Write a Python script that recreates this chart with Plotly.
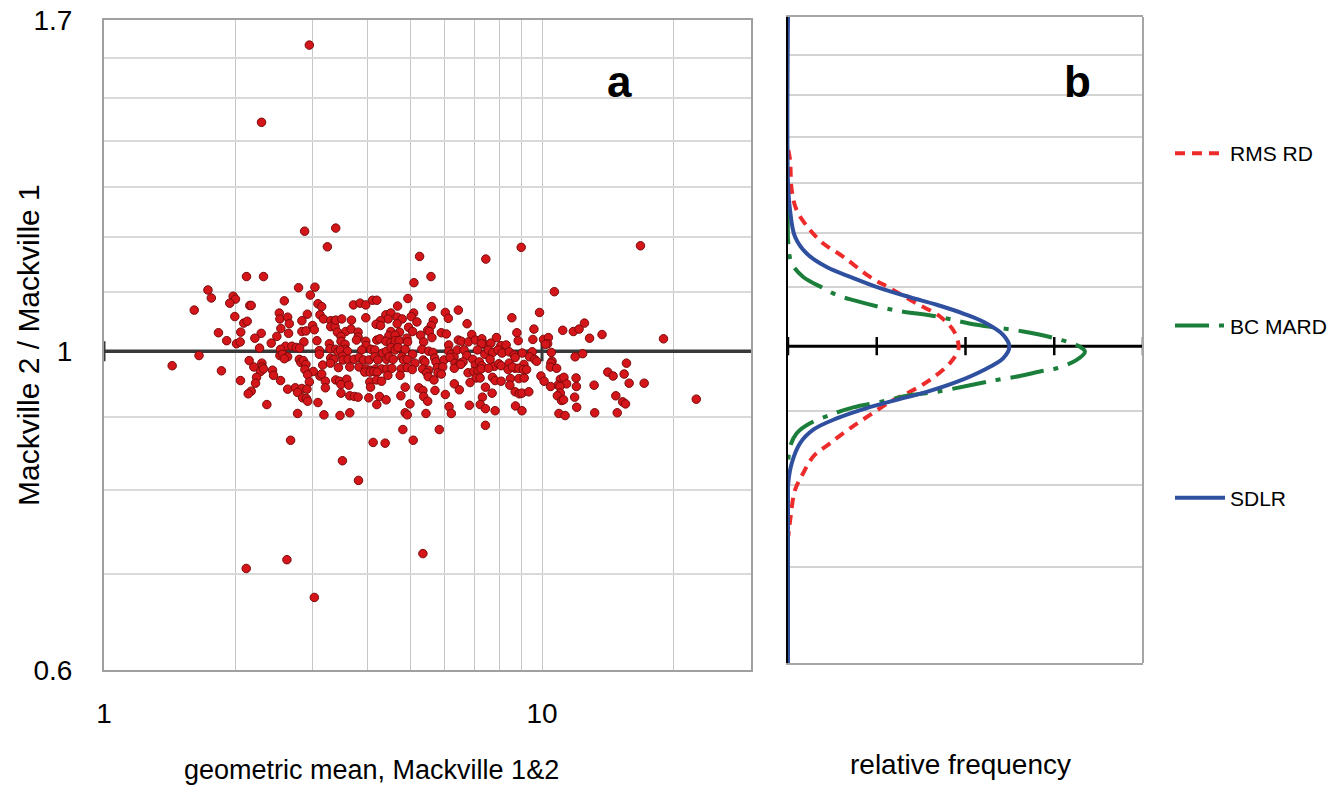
import plotly.graph_objects as go

# ---------------- data: panel a (scatter) ----------------
gm = [
 2.115,2.313,2.781,3.031,1.727,1.758,1.972,1.996,1.937,2.958,2.580,2.152,2.168,3.079,3.141,1.607,1.989,2.513,2.521,2.626,
 2.912,3.112,3.169,2.085,2.123,2.649,2.830,2.994,3.021,3.293,3.369,3.293,3.369,2.534,1.825,2.052,2.285,2.639,2.830,2.891,
 2.481,1.906,2.210,2.007,2.046,2.409,2.860,3.063,3.270,3.281,2.265,2.598,2.685,2.748,2.796,2.530,3.102,3.102,2.521,2.557,
 2.626,2.580,1.648,3.293,3.346,1.431,2.145,2.293,2.298,2.198,2.792,2.815,2.851,2.891,3.157,3.288,1.854,2.277,2.313,2.425,
 2.438,2.875,3.005,2.917,3.112,3.141,2.230,2.049,2.218,2.530,2.943,3.202,2.626,2.734,2.830,2.906,2.767,3.202,2.168,2.134,
 2.841,2.897,2.917,3.079,2.354,2.767,3.178,2.667,
 5.578,5.100,3.711,3.843,3.960,4.103,4.196,4.941,4.680,5.587,6.441,6.015,8.534,3.381,3.489,3.673,3.960,4.400,4.518,4.454,
 5.092,5.028,4.670,4.795,5.181,5.646,5.587,6.111,4.279,4.181,4.279,4.670,6.744,4.959,3.411,3.564,3.665,3.803,4.518,4.729,
 4.470,4.621,5.065,5.482,5.529,5.283,5.889,6.047,6.912,8.762,3.476,3.476,3.803,3.771,3.960,3.966,4.196,4.263,4.400,4.518,
 4.621,4.719,4.915,4.933,5.367,5.607,6.441,6.543,6.123,6.790,7.045,7.287,7.387,7.271,7.641,7.870,8.054,8.282,8.823,3.551,
 3.551,3.381,3.422,3.466,3.596,3.877,4.072,4.152,4.331,4.416,4.525,4.621,4.687,4.871,5.065,5.319,5.511,5.637,6.123,6.208,
 6.296,6.407,6.638,6.733,7.120,7.403,7.545,7.722,7.928,8.110,8.414,8.638,9.014,3.502,3.513,3.608,3.723,3.822,3.912,4.029,
 4.152,4.218,4.416,4.477,4.573,4.787,4.830,4.923,5.127,5.356,5.404,5.688,5.727,5.974,6.165,6.329,6.498,6.602,6.949,7.045,
 7.195,7.287,7.613,7.787,7.969,8.067,8.414,8.684,8.684,9.092,3.429,3.640,3.822,3.960,4.051,4.167,4.302,4.423,4.542,4.770,
 4.923,5.055,5.339,5.511,5.767,5.933,5.788,5.889,6.306,6.523,6.779,6.986,7.146,7.260,7.545,8.370,8.562,8.855,3.939,4.051,
 4.130,4.203,4.447,4.744,5.453,5.497,5.667,7.071,7.222,7.706,7.815,8.067,8.472,8.855,9.106,3.381,3.447,3.583,4.045,4.189,
 4.302,3.476,3.621,4.060,4.871,5.235,5.347,6.306,6.474,6.851,7.427,8.445,3.476,4.762,5.697,6.015,7.693,8.684,8.869,9.000,
 3.640,3.731,3.803,4.023,4.256,4.407,5.367,5.482,7.310,4.994,4.196,6.825,7.226,8.698,6.133,7.427,7.815,9.000,4.871,4.923,
 5.433,6.208,3.458,3.640,7.427,4.812,5.827,4.116,4.384,5.081,
 10.67,9.871,12.50,9.584,11.15,11.79,12.15,13.71,12.84,18.94,9.530,10.08,10.34,10.30,10.19,9.500,10.50,12.38,11.90,9.364,
 9.620,9.720,10.54,10.48,15.59,9.060,9.220,10.45,10.80,14.13,14.53,15.40,9.944,10.11,11.01,11.22,11.96,11.38,10.88,10.99,
 10.46,11.98,13.15,15.81,17.11,9.330,11.01,10.84,11.87,14.74,11.08,11.20,15.28,15.51,22.50,12.00,10.93,11.29,13.19,14.85,
 2.943,2.289,2.871,3.381,3.236,5.255,7.442,8.963,16.78,3.502,3.811,2.112,2.616,3.021,5.347,
]
ratio = [
 1.127,1.127,1.107,1.108,1.103,1.089,1.092,1.087,1.080,1.094,1.084,1.076,1.076,1.079,1.074,1.068,1.057,1.063,1.053,1.056,
 1.061,1.060,1.053,1.046,1.049,1.045,1.050,1.042,1.035,1.050,1.050,1.040,1.040,1.037,1.030,1.031,1.029,1.029,1.032,1.033,
 1.024,1.017,1.021,1.012,1.015,1.013,1.015,1.017,1.012,1.004,1.005,1.008,1.008,1.006,1.005,1.003,1.001,0.995,0.993,0.995,
 0.991,0.988,0.993,0.989,0.987,0.977,0.985,0.981,0.975,0.975,0.987,0.982,0.985,0.979,0.978,0.981,0.969,0.968,0.972,0.970,
 0.962,0.971,0.968,0.963,0.961,0.964,0.959,0.954,0.950,0.954,0.952,0.953,0.941,0.943,0.942,0.941,0.936,0.943,0.938,0.934,
 0.928,0.927,0.923,0.921,0.918,0.905,0.903,0.867,
 1.127,1.116,1.077,1.080,1.077,1.085,1.085,1.088,1.075,1.074,1.068,1.064,1.055,1.051,1.053,1.051,1.055,1.060,1.063,1.053,
 1.063,1.057,1.056,1.053,1.048,1.050,1.042,1.054,1.050,1.044,1.042,1.045,1.045,1.039,1.031,1.032,1.036,1.031,1.032,1.031,
 1.025,1.026,1.032,1.034,1.032,1.026,1.030,1.028,1.027,1.030,1.024,1.016,1.023,1.018,1.016,1.009,1.018,1.020,1.016,1.014,
 1.017,1.017,1.021,1.015,1.015,1.022,1.018,1.016,1.010,1.015,1.018,1.020,1.011,1.012,1.013,1.022,1.009,1.010,1.017,1.011,
 1.003,1.003,0.999,1.002,1.000,1.002,1.003,1.002,0.997,1.000,1.006,1.002,1.006,1.003,0.995,1.003,1.000,0.998,1.000,0.995,
 0.991,1.002,1.002,0.993,1.002,0.995,1.002,0.998,1.002,0.997,0.999,0.994,0.997,0.992,0.986,0.987,0.987,0.990,0.986,0.986,
 0.991,0.986,0.987,0.991,0.987,0.991,0.986,0.987,0.981,0.986,0.983,0.989,0.983,0.986,0.990,0.981,0.981,0.983,0.987,0.978,
 0.983,0.977,0.987,0.976,0.980,0.977,0.981,0.990,0.973,0.979,0.974,0.975,0.975,0.972,0.970,0.972,0.972,0.972,0.973,0.972,
 0.974,0.971,0.972,0.970,0.974,0.975,0.966,0.964,0.973,0.979,0.966,0.968,0.969,0.972,0.973,0.971,0.975,0.973,0.967,0.967,
 0.968,0.967,0.962,0.962,0.966,0.960,0.955,0.958,0.958,0.959,0.954,0.953,0.957,0.957,0.958,0.955,0.953,0.956,0.952,0.955,
 0.953,0.948,0.947,0.944,0.944,0.943,0.939,0.949,0.940,0.951,0.944,0.947,0.935,0.931,0.939,0.933,0.935,0.937,0.934,0.935,
 0.931,0.930,0.929,0.928,0.930,0.925,0.930,0.923,0.929,0.919,0.918,0.917,0.918,0.916,0.915,0.912,0.909,0.909,0.906,0.903,
 0.905,0.905,0.902,0.906,0.888,0.882,0.882,0.864,0.863,0.867,
 1.100,1.064,1.046,1.036,1.034,1.032,1.036,1.027,1.021,1.020,1.019,1.019,1.022,1.012,1.011,0.999,0.998,0.996,0.991,0.991,
 0.987,0.984,0.984,0.981,0.981,0.971,0.971,0.975,0.973,0.967,0.961,0.964,0.961,0.953,0.956,0.959,0.958,0.949,0.947,0.945,
 0.945,0.945,0.947,0.950,0.950,0.937,0.935,0.931,0.929,0.931,0.924,0.925,0.922,0.919,0.926,0.914,0.905,0.902,0.906,0.906,
 1.633,1.443,1.212,1.218,1.182,1.164,1.159,1.181,1.184,0.839,0.813,0.706,0.716,0.674,0.723,
]
ref_x = [1, 10, 30]          # identity line (ratio = 1)
ref_y = [1, 1, 1]

x_ticks = [1, 2, 3, 4, 5, 6, 7, 8, 9, 10, 20, 30]
x_text = ["1", "", "", "", "", "", "", "", "", "10", "", ""]
y_ticks = [0.6, 0.7, 0.8, 0.9, 1.0, 1.1, 1.2, 1.3, 1.4, 1.5, 1.6, 1.7]
y_text = ["0.6", "", "", "", "1", "", "", "", "", "", "", "1.7"]

# ---------------- data: panel b (relative frequency curves) ----------------
rms_freq = [0.003, 0.023, 0.042, 0.098, 0.248, 0.398, 0.623, 0.924, 1.149, 1.450, 1.713, 1.863, 1.919,
            1.919, 1.825, 1.600, 1.375, 1.149, 0.924, 0.699, 0.473, 0.285, 0.172, 0.079, 0.030, 0.003]
rms_ratio = [1.372, 1.350, 1.286, 1.245, 1.206, 1.180, 1.155, 1.118, 1.098, 1.071, 1.049, 1.026, 1.005,
             0.994, 0.973, 0.947, 0.929, 0.914, 0.895, 0.876, 0.855, 0.837, 0.815, 0.793, 0.760, 0.736]

bc_freq = [0.0, 0.003, 0.042, 0.172, 0.398, 0.549, 0.736, 1.186, 1.675, 2.126, 2.651, 3.028, 3.290, 3.346,
           3.253, 3.028, 2.839, 2.614, 2.352, 2.051, 1.675, 1.375, 1.037, 0.736, 0.473, 0.248, 0.098, 0.023, 0.0]
bc_ratio = [1.245, 1.181, 1.143, 1.118, 1.098, 1.086, 1.077, 1.060, 1.049, 1.035, 1.024, 1.012, 0.999, 0.991,
            0.978, 0.965, 0.960, 0.953, 0.947, 0.939, 0.929, 0.924, 0.914, 0.906, 0.895, 0.883, 0.869, 0.850, 0.819]

sdlr_freq = [0.0, 0.0, 0.023, 0.079, 0.211, 0.436, 0.736, 1.037, 1.375, 1.675, 1.975, 2.201, 2.426, 2.494,
             2.426, 2.201, 1.901, 1.563, 1.225, 0.887, 0.549, 0.285, 0.135, 0.042, 0.003, 0.0, 0.0]
sdlr_ratio = [1.70, 1.30, 1.245, 1.193, 1.161, 1.136, 1.116, 1.098, 1.082, 1.069, 1.054, 1.040, 1.018, 0.999,
              0.981, 0.962, 0.944, 0.929, 0.917, 0.905, 0.890, 0.874, 0.855, 0.828, 0.802, 0.780, 0.60]

axis_freq = [0, 1, 2, 3, 4]
axis_ratio = [1, 1, 1, 1, 1]
grid_b = [0.7, 0.8, 0.9, 1.1, 1.2, 1.3, 1.4, 1.5, 1.6]

# ---------------- layout helpers (pixel -> paper) ----------------
W, H = 1332, 786
def px(x): return x / W
def py(y): return 1 - y / H

FONT = "Liberation Sans, Arial, sans-serif"

fig = go.Figure()

# panel a
fig.add_trace(go.Scatter(
    x=ref_x, y=ref_y, mode="lines", xaxis="x", yaxis="y", showlegend=False,
    line=dict(color="#383838", width=3.5),
    error_y=dict(type="data", array=[0.016, 0.016, 0], visible=True, color="#383838", thickness=3, width=0),
    hoverinfo="skip"))
fig.add_trace(go.Scatter(
    x=gm, y=ratio, mode="markers", xaxis="x", yaxis="y", showlegend=False,
    marker=dict(size=8.5, color="#d4161b", line=dict(color="#7a0a0a", width=1))))

# panel b
fig.add_trace(go.Scatter(
    x=axis_freq, y=axis_ratio, mode="lines+markers", xaxis="x2", yaxis="y2", showlegend=False,
    line=dict(color="black", width=3),
    marker=dict(symbol="line-ns", size=13, line=dict(color="black", width=2.5)),
    hoverinfo="skip"))
fig.add_trace(go.Scatter(
    x=rms_freq, y=rms_ratio, mode="lines", xaxis="x2", yaxis="y2", name="RMS RD",
    legendgroup="g1", line=dict(color="#ee2b2b", width=4, dash="10px,7px", shape="spline")))
fig.add_trace(go.Scatter(
    x=bc_freq, y=bc_ratio, mode="lines", xaxis="x2", yaxis="y2", name="BC MARD",
    legendgroup="g2", line=dict(color="#1b7f3b", width=4, dash="34px,10px,5px,10px", shape="spline")))
fig.add_trace(go.Scatter(
    x=sdlr_freq, y=sdlr_ratio, mode="lines", xaxis="x2", yaxis="y2", name="SDLR",
    legendgroup="g3", line=dict(color="#2f4f9f", width=4, shape="spline")))

fig.update_layout(
    width=W, height=H,
    margin=dict(l=0, r=0, t=0, b=0, pad=0, autoexpand=False),
    paper_bgcolor="white", plot_bgcolor="white",
    font=dict(family=FONT, color="black"),
    xaxis=dict(domain=[px(104), px(751)], anchor="y", type="log", range=[0, 1.47712],
               tickmode="array", tickvals=x_ticks, ticktext=x_text, ticks="", automargin=False,
               tickfont=dict(size=28), ticklabelstandoff=17,
               showgrid=True, gridcolor="#c6c6c6", gridwidth=1,
               showline=True, linecolor="#a0a0a0", linewidth=2, mirror=True, zeroline=False),
    yaxis=dict(domain=[py(670), py(20)], anchor="x", type="log", range=[-0.22185, 0.23045],
               tickmode="array", tickvals=y_ticks, ticktext=y_text, ticks="", automargin=False,
               tickfont=dict(size=28), ticklabelstandoff=24,
               showgrid=True, gridcolor="#d9d9d9", gridwidth=2,
               showline=True, linecolor="#a0a0a0", linewidth=2, mirror=True, zeroline=False),
    xaxis2=dict(domain=[px(788), px(1143)], anchor="y2", range=[0, 4], automargin=False,
                showticklabels=False, ticks="", showgrid=False, zeroline=False,
                showline=True, linecolor="#a6a6a6", linewidth=2, mirror=True),
    yaxis2=dict(domain=[py(663), py(17)], anchor="x2", type="log", range=[-0.22185, 0.23045],
                tickmode="array", tickvals=grid_b, showticklabels=False, ticks="", automargin=False,
                showgrid=True, gridcolor="#d3d3d3", gridwidth=1.5, zeroline=False,
                showline=True, linecolor="black", linewidth=1.5),
    shapes=[dict(type="line", xref="paper", yref="paper", x0=px(1143), x1=px(1143),
                 y0=py(663), y1=py(17), line=dict(color="#a6a6a6", width=2))],
    legend=dict(x=px(1170), y=py(133), xanchor="left", yanchor="top",
                traceorder="grouped", tracegroupgap=142, itemwidth=50,
                font=dict(size=21, family=FONT), bgcolor="rgba(0,0,0,0)"),
    annotations=[
        dict(text="<b>a</b>", x=px(619), y=py(82), xref="paper", yref="paper",
             showarrow=False, font=dict(size=44), xanchor="center", yanchor="middle"),
        dict(text="<b>b</b>", x=px(1077), y=py(82), xref="paper", yref="paper",
             showarrow=False, font=dict(size=44), xanchor="center", yanchor="middle"),
        dict(text="geometric mean, Mackville 1&2", x=px(372), y=py(770), xref="paper", yref="paper",
             showarrow=False, font=dict(size=27), xanchor="center", yanchor="middle"),
        dict(text="relative frequency", x=px(960), y=py(764), xref="paper", yref="paper",
             showarrow=False, font=dict(size=28), xanchor="center", yanchor="middle"),
        dict(text="Mackville 2 / Mackville 1", x=px(28), y=py(345), xref="paper", yref="paper",
             showarrow=False, font=dict(size=30), textangle=-90, xanchor="center", yanchor="middle"),
    ],
)

fig.write_html("out.html")
